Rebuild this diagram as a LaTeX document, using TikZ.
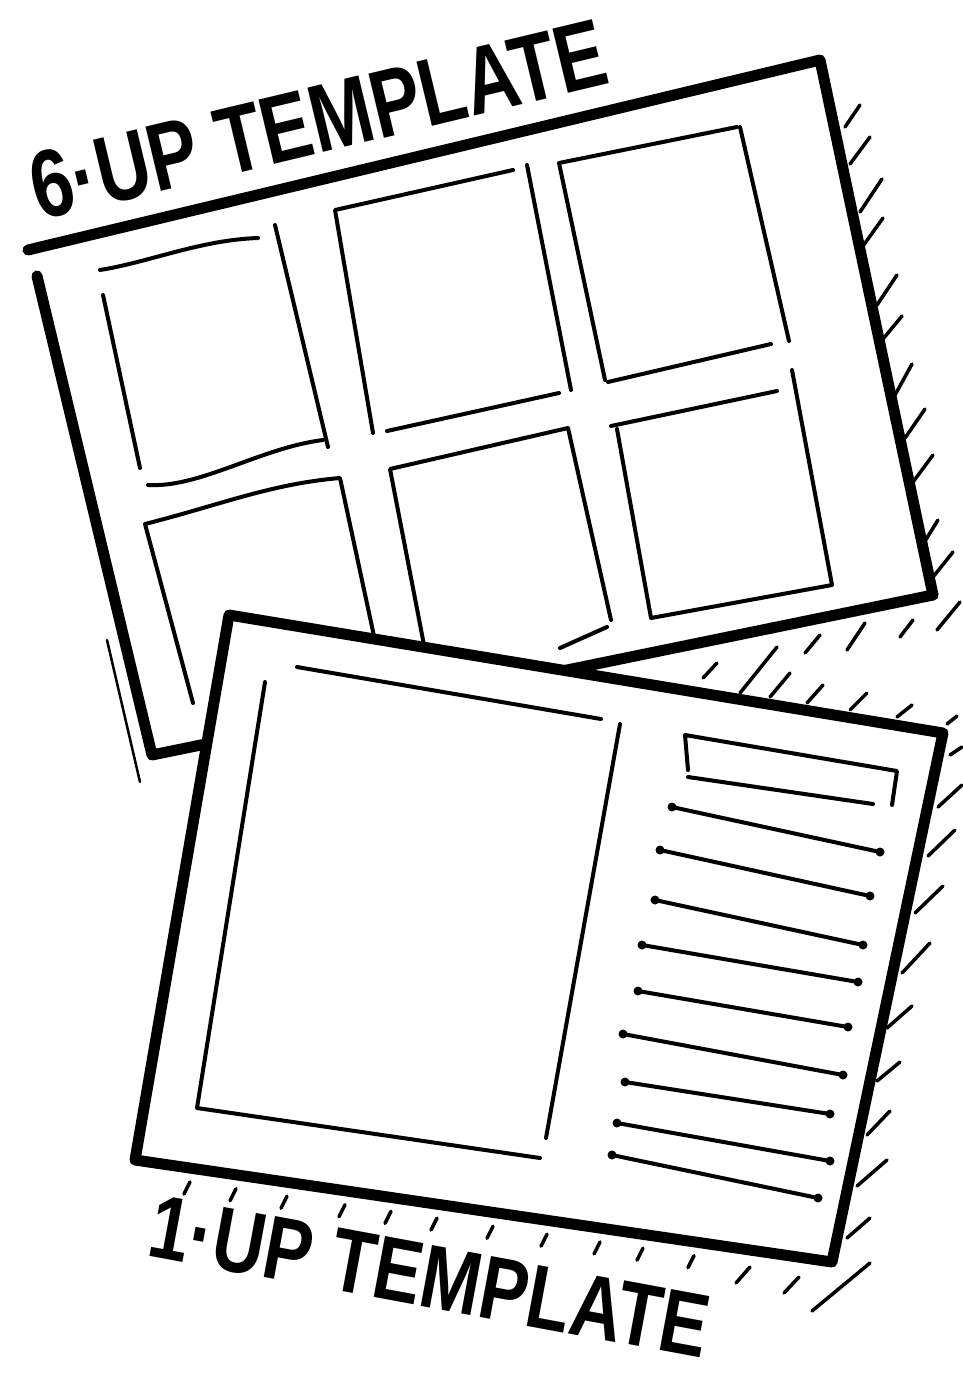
\documentclass[tikz,border=0pt]{standalone}
\usepackage{fontspec}
\newfontfamily\handfont{Liberation Sans}
\begin{document}
\begin{tikzpicture}[x=1pt,y=-1pt,line cap=round,line join=round,
  edge/.style={line width=11pt},
  inner/.style={line width=4pt},
  thinl/.style={line width=2.5pt},
  hatch/.style={line width=3.5pt},
  tline/.style={line width=4pt},
  title/.style={font=\handfont\bfseries, inner sep=0pt, anchor=base}]
\useasboundingbox (0,0) rectangle (963,1377);
\fill[white] (0,0) rectangle (963,1377);

% ---------- 6-up page ----------
\draw[thinl] (107,640) -- (140,782);
\draw[edge] (28,250) -- (820,60) -- (933,595);
\draw[edge] (37,276) -- (152,755) -- (933,595);
% panels
\draw[inner] (100,270) .. controls (150,262) and (200,240) .. (258,238);
\draw[inner] (103,295) -- (140,468);
\draw[inner] (275,225) -- (328,447);
\draw[inner] (148,485) .. controls (200,488) and (260,448) .. (323,440);
\draw[inner] (373,433) -- (335,210) -- (513,170);
\draw[inner] (527,165) -- (571,390);
\draw[inner] (387,431) -- (559,393);
\draw[inner] (605,380) -- (559,163) -- (737,127);
\draw[inner] (740,127) -- (789,341);
\draw[inner] (608,382) -- (771,344);
\draw[inner] (193,703) -- (145,524) .. controls (220,505) and (270,484) .. (340,478) -- (377,650);
\draw[inner] (424,645) -- (390,469) -- (568,428) -- (611,620);
\draw[inner] (560,648) -- (607,627);
\draw[inner] (611,426) -- (777,391);
\draw[inner] (617,429) -- (651,618) -- (832,585) -- (792,370);

% hatches right of 6-up page
\foreach \a/\b/\c/\d in {845/127/860/105, 850/164/870/137, 860/212/882/179,
  863/246/883/218, 877/305/897/275, 883/339/902/316, 895/395/912/364,
  905/438/925/409, 913/482/933/455, 925/541/938/520, 933/577/953/552,
  937/630/960/602}
  \draw[hatch] (\a,\b) -- (\c,\d);
% hatches in wedge between pages
\foreach \a/\b/\c/\d in {805/653/820/635, 847/650/865/623, 900/637/913/620,
  703/678/717/663, 740/693/777/647, 770/697/790/673, 807/703/823/685,
  850/710/867/693, 897/717/912/705, 947/724/957/716, 950/755/962/747}
  \draw[hatch] (\a,\b) -- (\c,\d);

% ---------- 1-up page ----------
\draw[thinl] (280,1172) -- (488,1207);
\fill[white] (229,615) -- (943,733) -- (832,1262) -- (135,1160) -- cycle;
\draw[edge] (229,615) -- (943,733) -- (832,1262) -- (135,1160) -- cycle;
% left image panel
\draw[inner] (297,667) -- (601,719);
\draw[inner] (620,724) -- (546,1138);
\draw[inner] (265,682) -- (197,1108) -- (540,1158);
% box
\draw[tline] (688,770) -- (685,735) -- (897,771) -- (892,805);
\draw[tline] (688,777) -- (873,804);
% text lines
\foreach \a/\b/\c/\d in {672/807/880/852, 660/850/870/896, 655/900/863/945,
  642/945/858/982, 638/991/848/1027, 623/1034/843/1075, 625/1082/830/1114,
  617/1123/830/1161, 612/1155/818/1198}
  {\draw[tline] (\a,\b) -- (\c,\d);
   \fill (\a,\b) circle (4.5pt);
   \fill (\c,\d) circle (4.5pt);}
% hatches right of 1-up page
\foreach \a/\b/\c/\d in {938/807/962/785, 928/856/955/830, 915/913/943/886,
  902/973/930/943, 887/1028/912/1006, 877/1081/900/1062, 867/1135/890/1111,
  857/1186/887/1160, 847/1238/870/1218, 812/1311/870/1263}
  \draw[hatch] (\a,\b) -- (\c,\d);
% hatches under 1-up page
\foreach \x in {190,236,287,345,391,437,493,547,600,643,694}
  \draw[hatch] (\x,{1162+0.146*(\x-135)+12}) -- ++(-6,12);
\draw[hatch] (736,1283) -- (750,1267);
\draw[hatch] (784,1293) -- (799,1277);

% ---------- labels ----------
\node[title, rotate=13.5, xscale=0.78, font=\handfont\bfseries\fontsize{96pt}{100pt}\selectfont] (t6) at (326,152) {6·UP TEMPLATE};
\node[title, rotate=-10.5, xscale=0.8, font=\handfont\bfseries\fontsize{90pt}{94pt}\selectfont] (t1) at (424,1307) {1·UP TEMPLATE};
\end{tikzpicture}
\end{document}
